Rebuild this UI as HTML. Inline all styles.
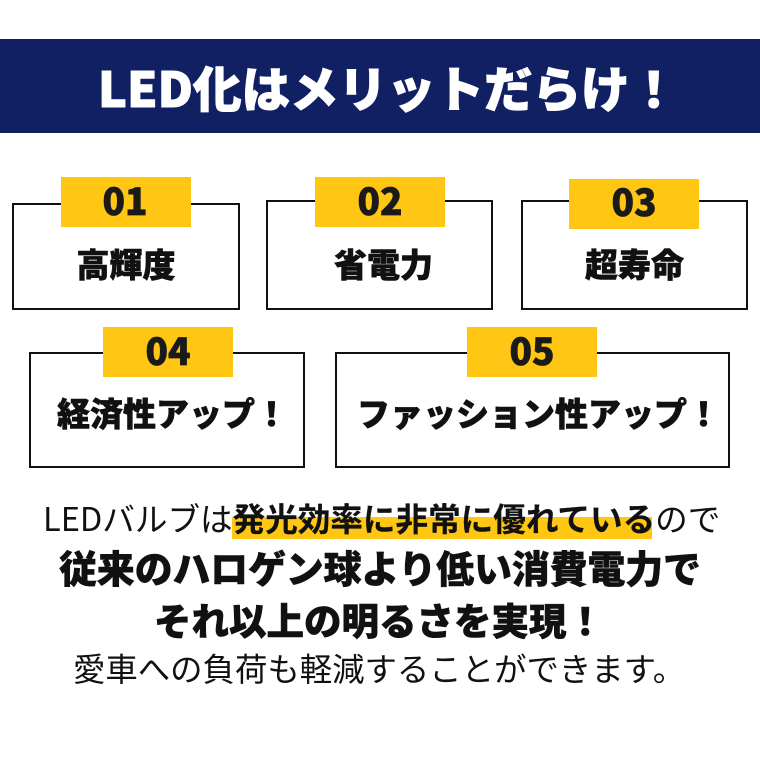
<!DOCTYPE html>
<html lang="ja"><head><meta charset="utf-8">
<style>
html,body{margin:0;padding:0;background:#fff}
#p{position:relative;width:760px;height:760px;overflow:hidden;background:#fff;font-family:"Liberation Sans","Noto Sans CJK JP",sans-serif;color:#111}
#p div{position:absolute;box-sizing:border-box}
.t{white-space:nowrap;text-align:center;font-family:"Noto Sans CJK JP",sans-serif;font-weight:900;line-height:1;-webkit-text-stroke:.6px currentColor}
.b{border:2px solid #111;background:#fff}
.y{background:#ffc713;width:130px;height:50px}
.n{font-size:37px;width:130px;height:50px;line-height:50px;font-family:"Noto Sans CJK JP",sans-serif;font-weight:900;text-align:center;color:#1a1a1a;-webkit-text-stroke:.7px #1a1a1a}
.l{font-size:33px}
.r{font-weight:400;-webkit-text-stroke:0}
</style></head><body>
<div id="p">
<div style="left:0;top:39px;width:760px;height:94px;background:#112063"></div>
<div class="t" style="left:0;top:62px;width:776px;font-size:48.5px;color:#fff;-webkit-text-stroke:1px #fff">LED化はメリットだらけ！</div>

<div class="b" style="left:12px;top:203px;width:228px;height:107px"></div>
<div class="y" style="left:61px;top:177px"></div><div class="n" style="left:60px;top:174px">01</div>
<div class="t l" style="left:12px;top:247px;width:228px">高輝度</div>

<div class="b" style="left:266px;top:200px;width:227px;height:110px"></div>
<div class="y" style="left:315px;top:177px"></div><div class="n" style="left:315px;top:174px">02</div>
<div class="t l" style="left:270px;top:247px;width:227px">省電力</div>

<div class="b" style="left:521px;top:200px;width:227px;height:110px"></div>
<div class="y" style="left:569px;top:179px"></div><div class="n" style="left:569px;top:175px">03</div>
<div class="t l" style="left:521px;top:247px;width:227px">超寿命</div>

<div class="b" style="left:29px;top:352px;width:276px;height:116px"></div>
<div class="y" style="left:103px;top:327px"></div><div class="n" style="left:103px;top:324px">04</div>
<div class="t l" style="left:57px;top:396px;text-align:left">経済性アップ！</div>

<div class="b" style="left:335px;top:352px;width:395px;height:116px"></div>
<div class="y" style="left:467px;top:327px"></div><div class="n" style="left:467px;top:324px">05</div>
<div class="t l" style="left:357px;top:396px;text-align:left">ファッション性アップ！</div>

<div style="left:232px;top:517px;width:420px;height:22px;background:#ffc713"></div>
<div class="t r" style="left:43px;top:502px;font-size:32.6px;text-align:left"><span>LEDバルブは</span><span style="font-weight:700;-webkit-text-stroke:.2px #111">発光効率に非常に優れている</span><span>ので</span></div>
<div class="t" style="left:0;top:548px;width:760px;font-size:37.8px">従来のハロゲン球より低い消費電力で</div>
<div class="t" style="left:0;top:600px;width:758px;font-size:37.5px">それ以上の明るさを実現！</div>
<div class="t r" style="left:73px;top:652px;font-size:32.4px;text-align:left">愛車への負荷も軽減することができます。</div>
</div>
</body></html>
